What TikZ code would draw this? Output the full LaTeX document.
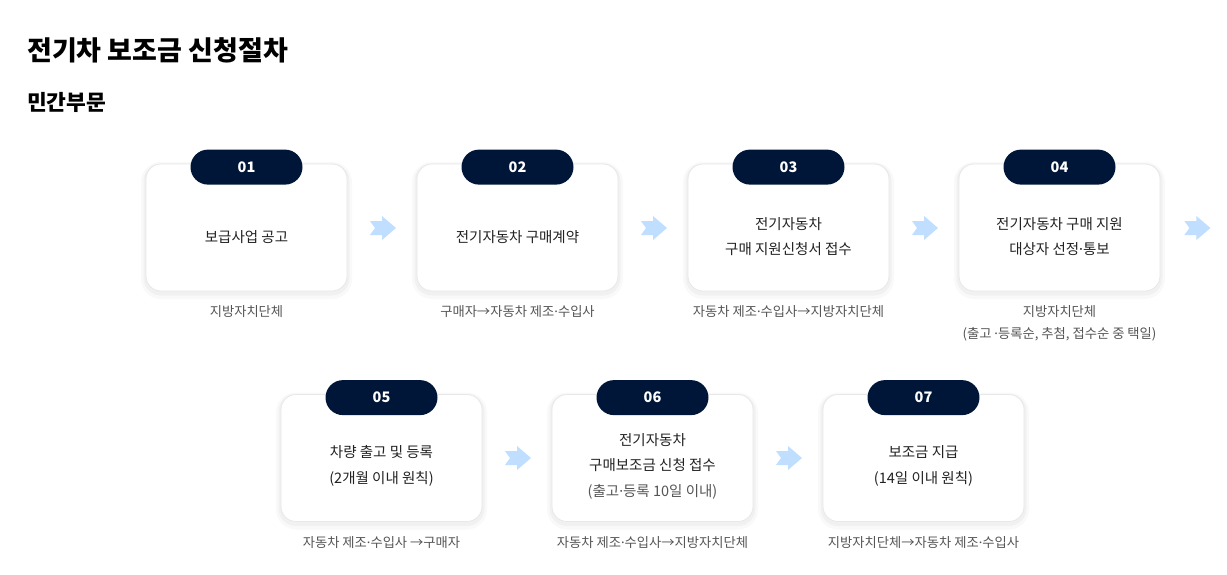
\documentclass[tikz,border=0pt]{standalone}
\usepackage{fontspec}
\setmainfont{Noto Sans CJK KR}
\newfontfamily\dotfont{Noto Sans}
\newcommand{\md}{{\dotfont ·}}
\usetikzlibrary{calc}
\definecolor{navy}{RGB}{0,22,56}
\definecolor{arrowblue}{RGB}{192,222,255}
\definecolor{cardline}{RGB}{232,232,232}
\definecolor{ink}{RGB}{34,34,34}
\definecolor{subgray}{RGB}{85,85,85}
\tikzset{
  card/.style={draw=cardline, fill=white, rounded corners=15pt, line width=0.8pt,
    minimum width=201pt, minimum height=127pt,
    preaction={draw=black, draw opacity=0.025, line width=10pt, transform canvas={yshift=-3pt}},
    preaction={draw=black, draw opacity=0.03, line width=5pt, transform canvas={yshift=-2pt}}},
  pill/.style={fill=navy, rounded corners=17.5pt, minimum width=112pt, minimum height=35pt,
    inner sep=0pt, text=white, font=\fontsize{14.5}{16}\selectfont\bfseries},
  cardtext/.style={text=ink, align=center, inner sep=0pt, font=\fontsize{14.5}{25.5}\selectfont},
  sublabel/.style={text=subgray, align=center, inner sep=0pt, anchor=north, font=\fontsize{13.3}{22}\selectfont},
  chev/.pic={\fill[arrowblue] (-13,-7) -- (-1,-7) -- (-1,-12) -- (13,0) -- (-1,12) -- (-1,7) -- (-13,7) -- (-8,0) -- cycle;}
}
\begin{document}
\begin{tikzpicture}[x=1pt,y=-1pt]
\useasboundingbox[fill=white] (0,0) rectangle (1227,574);
\node[anchor=west, inner sep=0pt, font=\fontsize{27}{30}\selectfont\bfseries] (title) at (27,50) {전기차 보조금 신청절차};
\node[anchor=west, inner sep=0pt, font=\fontsize{21.5}{24}\selectfont\bfseries] (sec) at (27,102) {민간부문};

% row 1
\node[card] (c1) at (246.5,227.5) {};
\node[card] (c2) at (517.5,227.5) {};
\node[card] (c3) at (788.5,227.5) {};
\node[card] (c4) at (1059.5,227.5) {};
% row 2
\node[card] (c5) at (381.5,458) {};
\node[card] (c6) at (652.5,458) {};
\node[card] (c7) at (923.5,458) {};

\foreach \i/\n in {1/01,2/02,3/03,4/04,5/05,6/06,7/07}{
  \node[pill] (p\i) at ([yshift=-3.5pt]c\i.north) {\n};
}

\node[cardtext] (t1) at ([yshift=-10pt]c1.center) {보급사업 공고};
\node[cardtext] (t2) at ([yshift=-10pt]c2.center) {전기자동차 구매계약};
\node[cardtext] (t3) at ([yshift=-9pt]c3.center) {전기자동차\\구매 지원신청서 접수};
\node[cardtext] (t4) at ([yshift=-9pt]c4.center) {전기자동차 구매 지원\\대상자 선정\md 통보};
\node[cardtext] (t5) at ([yshift=-8pt]c5.center) {차량 출고 및 등록\\(2개월 이내 원칙)};
\node[cardtext] (t6) at ([yshift=-8pt]c6.center) {전기자동차\\구매보조금 신청 접수\\{\color{subgray}(출고\md 등록 10일 이내)}};
\node[cardtext] (t7) at ([yshift=-8pt]c7.center) {보조금 지급\\(14일 이내 원칙)};

\node[sublabel] (l1) at ([yshift=-14pt]c1.south) {지방자치단체};
\node[sublabel] (l2) at ([yshift=-14pt]c2.south) {구매자→자동차 제조\md 수입사};
\node[sublabel] (l3) at ([yshift=-14pt]c3.south) {자동차 제조\md 수입사→지방자치단체};
\node[sublabel] (l4) at ([yshift=-14pt]c4.south) {지방자치단체\\(출고 \md 등록순, 추첨, 접수순 중 택일)};
\node[sublabel] (l5) at ([yshift=-14pt]c5.south) {자동차 제조\md 수입사 →구매자};
\node[sublabel] (l6) at ([yshift=-14pt]c6.south) {자동차 제조\md 수입사→지방자치단체};
\node[sublabel] (l7) at ([yshift=-14pt]c7.south) {지방자치단체→자동차 제조\md 수입사};

\pic at ($(c1.east)!0.5!(c2.west)+(1,0.5)$) {chev};
\pic at ($(c2.east)!0.5!(c3.west)+(1,0.5)$) {chev};
\pic at ($(c3.east)!0.5!(c4.west)+(1,0.5)$) {chev};
\pic at ($(c4.east)+(37,0.5)$) {chev};
\pic at ($(c5.east)!0.5!(c6.west)+(1,0)$) {chev};
\pic at ($(c6.east)!0.5!(c7.west)+(1,0)$) {chev};
\end{tikzpicture}
\end{document}
